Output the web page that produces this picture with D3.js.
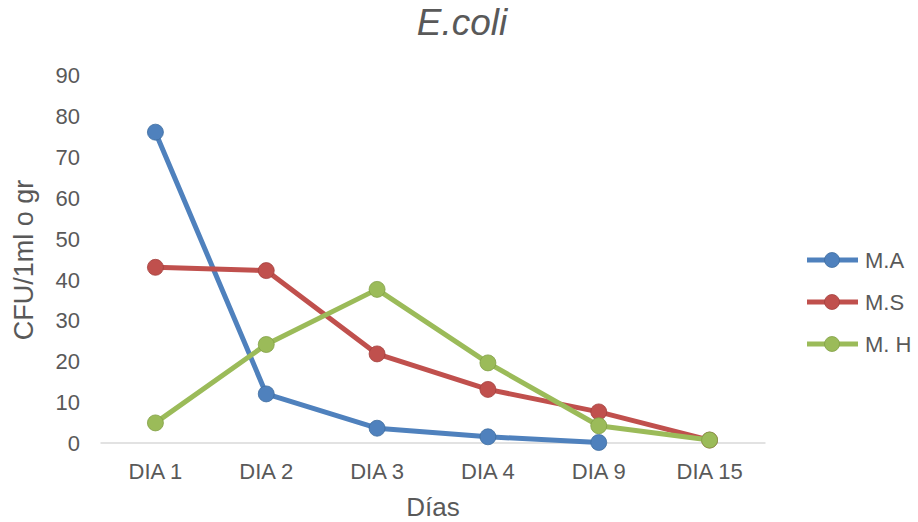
<!DOCTYPE html>
<html>
<head>
<meta charset="utf-8">
<script src="https://cdn.jsdelivr.net/npm/d3@7"></script>
<style>
  html, body { margin: 0; padding: 0; background: #ffffff; }
  svg { display: block; font-family: "Liberation Sans", Arial, sans-serif; }
</style>
</head>
<body>
<svg id="chart" width="918" height="522"></svg>
<script>
const categories = ["DIA 1", "DIA 2", "DIA 3", "DIA 4", "DIA 9", "DIA 15"];
const seriesNames = ["M.A", "M.S", "M. H"];
const valuesMA = [76.0, 11.9, 3.5, 1.4, 0.0, null];
const valuesMS = [42.9, 42.1, 21.7, 13.0, 7.5, 0.6];
const valuesMH = [4.8, 24.0, 37.5, 19.5, 4.1, 0.6];
const yTicks = [0, 10, 20, 30, 40, 50, 60, 70, 80, 90];
const colors = ["#4F81BD", "#C0504D", "#9BBB59"];
const strokeColors = ["#3f6d9f", "#a3403d", "#82a045"];

const series = [
  { name: seriesNames[0], values: valuesMA },
  { name: seriesNames[1], values: valuesMS },
  { name: seriesNames[2], values: valuesMH }
];

const svg = d3.select("#chart");
const textColor = "#595959";

const x = d3.scaleBand().domain(categories).range([100, 765]).padding(0);
const y = d3.scaleLinear().domain([0, 90]).range([442.5, 75]);
const cx = d => x(d) + x.bandwidth() / 2;

// Title
svg.append("text")
  .attr("x", 462).attr("y", 35)
  .attr("text-anchor", "middle")
  .attr("font-size", 37)
  .attr("font-style", "italic")
  .attr("fill", textColor)
  .text("E.coli");

// Y tick labels
const yAxis = d3.axisLeft(y).tickValues(yTicks).tickSize(0).tickPadding(0);
const gy = svg.append("g").attr("transform", "translate(80,0)").call(yAxis);
gy.select(".domain").remove();
gy.selectAll("text")
  .attr("font-size", 22)
  .attr("font-family", "Liberation Sans, Arial, sans-serif")
  .attr("fill", textColor)
  .attr("dy", "0.36em");

// X axis
const xAxis = d3.axisBottom(x).tickSize(0).tickPadding(0);
const gx = svg.append("g").attr("transform", "translate(0,442.5)").call(xAxis);
gx.select(".domain").attr("stroke", "#d9d9d9").attr("stroke-width", 1.5);
gx.selectAll("text")
  .attr("font-size", 22)
  .attr("font-family", "Liberation Sans, Arial, sans-serif")
  .attr("fill", textColor)
  .attr("y", 36)
  .attr("dy", 0);

// Axis titles
svg.append("text")
  .attr("transform", "translate(33,260) rotate(-90)")
  .attr("text-anchor", "middle")
  .attr("font-size", 27)
  .attr("fill", textColor)
  .text("CFU/1ml o gr");

svg.append("text")
  .attr("x", 433).attr("y", 516)
  .attr("text-anchor", "middle")
  .attr("font-size", 26)
  .attr("fill", textColor)
  .text("Días");

// Lines
const line = d3.line()
  .defined(d => d.v !== null)
  .x(d => cx(d.c))
  .y(d => y(d.v));

series.forEach((s, i) => {
  const pts = categories.map((c, j) => ({ c: c, v: s.values[j] }));
  const g = svg.append("g");
  g.append("path")
    .datum(pts)
    .attr("fill", "none")
    .attr("stroke", colors[i])
    .attr("stroke-width", 5)
    .attr("stroke-linejoin", "round")
    .attr("d", line);
  g.selectAll("circle")
    .data(pts.filter(d => d.v !== null))
    .enter().append("circle")
    .attr("cx", d => cx(d.c))
    .attr("cy", d => y(d.v))
    .attr("r", 8)
    .attr("fill", colors[i])
    .attr("stroke", strokeColors[i])
    .attr("stroke-width", 0.8);
});

// Legend
const legendY = [260, 302, 344];
series.forEach((s, i) => {
  const g = svg.append("g").attr("transform", `translate(0,${legendY[i]})`);
  g.append("line")
    .attr("x1", 807).attr("x2", 858)
    .attr("y1", 0).attr("y2", 0)
    .attr("stroke", colors[i]).attr("stroke-width", 5);
  g.append("circle")
    .attr("cx", 832).attr("cy", 0).attr("r", 7.5)
    .attr("fill", colors[i])
    .attr("stroke", strokeColors[i]).attr("stroke-width", 0.8);
  g.append("text")
    .attr("x", 865).attr("y", 0).attr("dy", "0.36em")
    .attr("font-size", 22)
    .attr("fill", textColor)
    .text(s.name);
});
</script>
</body>
</html>
